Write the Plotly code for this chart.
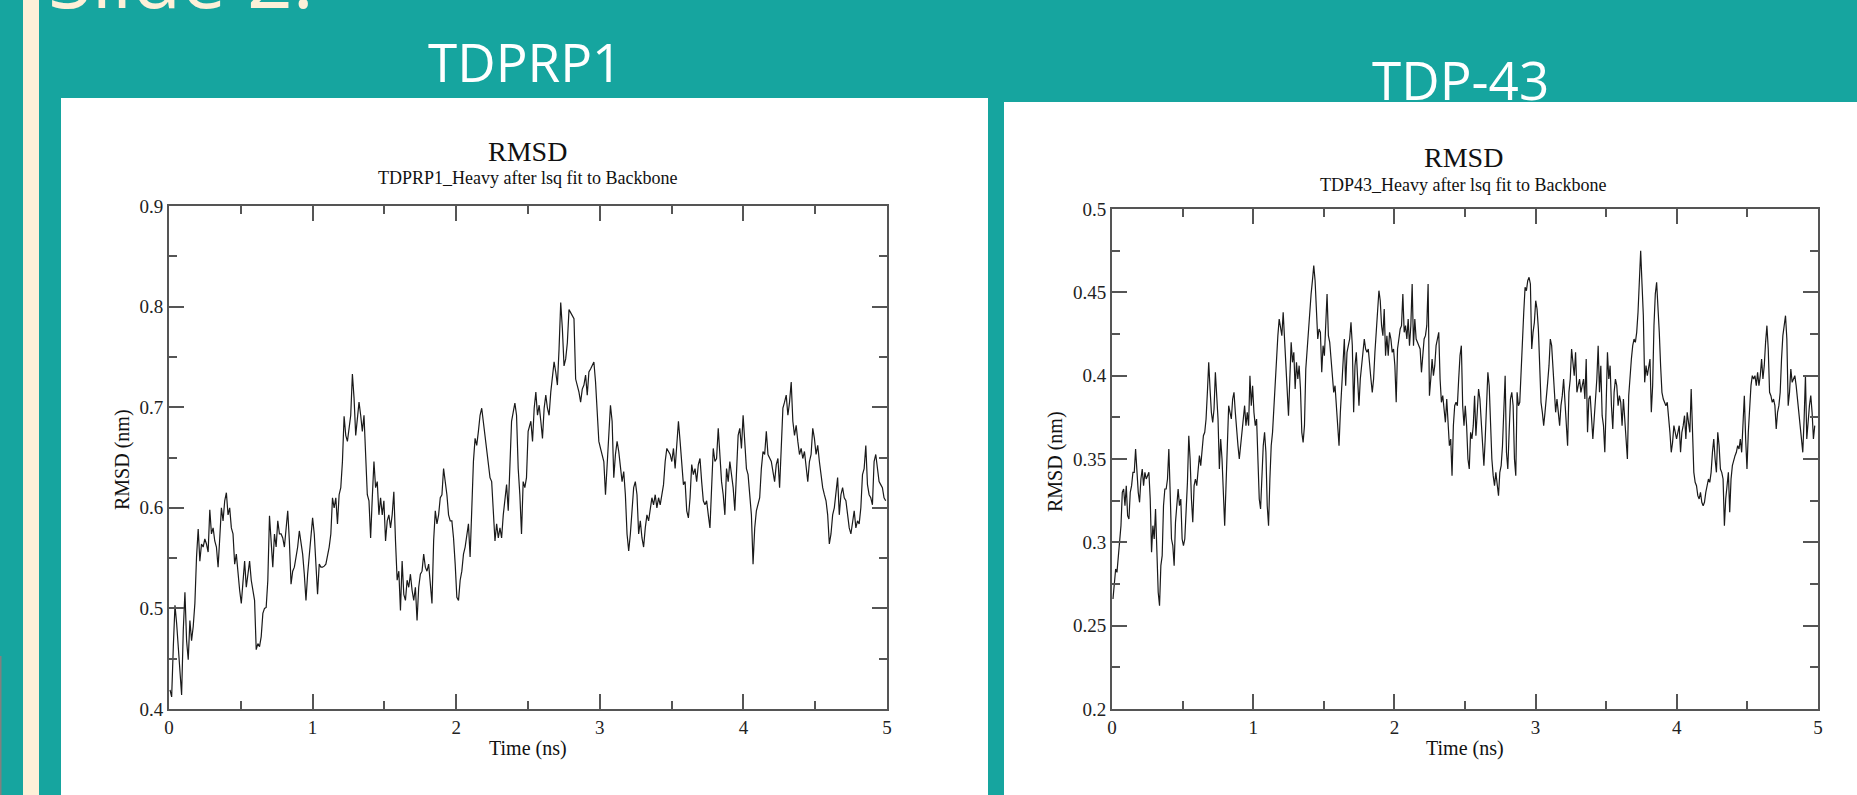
import numpy as np
import plotly.graph_objects as go

W, H = 1857, 795

# ---------------- data ----------------
# TDPRP1 RMSD (nm), first half (t ~ 0.007 .. 2.50 ns)
tdprp1_a = [0.419,0.412,0.462,0.503,0.485,0.462,0.442,0.414,0.478,0.516,
0.468,0.449,0.488,0.468,0.482,0.505,0.551,0.579,0.547,0.564,
0.561,0.569,0.564,0.556,0.598,0.574,0.580,0.567,0.561,0.541,
0.570,0.600,0.587,0.607,0.615,0.593,0.600,0.580,0.574,0.544,
0.554,0.534,0.518,0.505,0.528,0.547,0.521,0.534,0.547,0.528,
0.518,0.508,0.459,0.465,0.462,0.472,0.495,0.500,0.501,0.528,
0.592,0.567,0.541,0.574,0.561,0.587,0.574,0.574,0.570,0.561,
0.580,0.597,0.567,0.524,0.537,0.541,0.551,0.561,0.577,0.564,
0.554,0.534,0.508,0.534,0.554,0.574,0.590,0.574,0.541,0.514,
0.544,0.541,0.541,0.542,0.544,0.551,0.561,0.574,0.610,0.600,
0.610,0.584,0.613,0.620,0.646,0.691,0.672,0.666,0.679,0.692,
0.733,0.709,0.672,0.692,0.705,0.692,0.676,0.692,0.653,0.613,
0.607,0.570,0.610,0.646,0.620,0.626,0.593,0.610,0.593,0.607,
0.567,0.587,0.593,0.580,0.593,0.616,0.567,0.528,0.537,0.498,
0.547,0.514,0.508,0.528,0.521,0.534,0.518,0.508,0.521,0.488,
0.521,0.534,0.537,0.554,0.541,0.537,0.544,0.528,0.505,0.567,
0.597,0.584,0.593,0.610,0.613,0.639,0.626,0.613,0.593,0.587,
0.587,0.570,0.544,0.511,0.508,0.528,0.537,0.554,0.561,0.574,
0.584,0.551,0.593,0.646,0.669,0.662,0.676,0.692,0.699,0.686,
0.669,0.656,0.643,0.630,0.626,0.600,0.567,0.584,0.570,0.580,
0.570,0.593,0.610,0.623,0.597,0.639,0.686,0.695,0.704,0.692,
0.639,0.613,0.574,0.626,0.620,0.630,0.676]
# TDPRP1 RMSD (nm), second half (t ~ 2.52 .. 4.99 ns)
tdprp1_b = [0.686,0.666,0.699,0.715,0.692,0.702,0.686,0.669,0.699,0.712,
0.699,0.692,0.715,0.728,0.745,0.735,0.722,0.758,0.804,0.778,
0.741,0.748,0.764,0.797,0.794,0.791,0.788,0.728,0.722,0.715,
0.705,0.718,0.722,0.732,0.712,0.735,0.738,0.741,0.745,0.725,
0.695,0.666,0.659,0.653,0.646,0.613,0.639,0.676,0.702,0.686,
0.630,0.653,0.666,0.656,0.639,0.626,0.636,0.613,0.574,0.557,
0.574,0.593,0.620,0.626,0.613,0.574,0.587,0.570,0.561,0.580,
0.593,0.587,0.600,0.610,0.603,0.613,0.600,0.610,0.603,0.613,
0.623,0.646,0.659,0.656,0.653,0.646,0.659,0.639,0.659,0.686,
0.666,0.639,0.623,0.626,0.597,0.590,0.610,0.643,0.633,0.639,
0.626,0.643,0.649,0.626,0.607,0.603,0.607,0.593,0.580,0.620,
0.659,0.646,0.649,0.679,0.653,0.626,0.613,0.593,0.639,0.626,
0.646,0.633,0.620,0.597,0.639,0.672,0.679,0.659,0.692,0.666,
0.639,0.633,0.610,0.593,0.544,0.580,0.597,0.603,0.610,0.639,
0.656,0.653,0.676,0.653,0.649,0.646,0.636,0.626,0.643,0.649,
0.620,0.659,0.699,0.705,0.712,0.692,0.705,0.725,0.686,0.672,
0.682,0.666,0.653,0.659,0.649,0.656,0.639,0.626,0.646,0.653,
0.679,0.669,0.653,0.662,0.646,0.633,0.620,0.613,0.607,0.593,
0.564,0.574,0.593,0.600,0.613,0.630,0.593,0.613,0.620,0.610,
0.607,0.590,0.580,0.574,0.587,0.597,0.580,0.587,0.584,0.600,
0.633,0.639,0.662,0.623,0.613,0.610,0.603,0.646,0.653,0.639,
0.626,0.623,0.620,0.610,0.607]

# TDP-43 RMSD (nm), first half (t ~ 0.007 .. 2.49 ns)
tdp43_a = [0.266,0.275,0.284,0.282,0.292,0.300,0.310,0.330,0.332,0.322,
0.334,0.316,0.314,0.330,0.334,0.342,0.342,0.356,0.338,0.330,
0.324,0.338,0.344,0.334,0.342,0.338,0.340,0.342,0.326,0.294,
0.310,0.302,0.320,0.290,0.270,0.262,0.286,0.292,0.322,0.332,
0.332,0.338,0.356,0.330,0.302,0.298,0.286,0.312,0.320,0.332,
0.322,0.326,0.302,0.298,0.302,0.318,0.336,0.364,0.350,0.326,
0.312,0.334,0.338,0.334,0.344,0.352,0.346,0.354,0.364,0.366,
0.374,0.390,0.408,0.392,0.378,0.372,0.380,0.402,0.390,0.374,
0.344,0.362,0.350,0.334,0.310,0.334,0.358,0.382,0.378,0.374,
0.386,0.390,0.378,0.366,0.358,0.350,0.358,0.370,0.378,0.382,
0.370,0.378,0.370,0.400,0.382,0.394,0.378,0.370,0.374,0.342,
0.326,0.320,0.342,0.358,0.366,0.354,0.322,0.310,0.338,0.358,
0.366,0.382,0.398,0.412,0.424,0.434,0.430,0.424,0.438,0.420,
0.406,0.388,0.376,0.398,0.420,0.408,0.414,0.392,0.408,0.398,
0.406,0.392,0.366,0.360,0.370,0.404,0.416,0.426,0.436,0.449,
0.457,0.466,0.457,0.440,0.422,0.428,0.426,0.402,0.418,0.412,
0.432,0.449,0.424,0.420,0.410,0.398,0.390,0.394,0.382,0.374,
0.358,0.378,0.394,0.406,0.422,0.394,0.414,0.418,0.422,0.432,
0.418,0.378,0.406,0.414,0.394,0.382,0.398,0.406,0.414,0.422,
0.416,0.414,0.416,0.404,0.398,0.390,0.398,0.414,0.426,0.438,
0.451,0.445,0.430,0.424,0.440,0.412,0.424,0.412,0.426,0.422,
0.414,0.416,0.406,0.384,0.416,0.422,0.428,0.430,0.449,0.426,
0.430,0.422,0.434,0.418,0.430,0.455,0.418,0.434,0.422,0.420,
0.418,0.416,0.402,0.414,0.422,0.424,0.430,0.455,0.388,0.398,
0.410,0.400,0.406,0.418,0.422,0.426,0.398,0.384,0.388,0.380,
0.372,0.386,0.370,0.358,0.362,0.340,0.370,0.382,0.384,0.382,
0.398,0.412,0.418,0.382,0.370]
# TDP-43 RMSD (nm), second half (t ~ 2.50 .. 4.98 ns)
tdp43_b = [0.382,0.370,0.350,0.344,0.366,0.362,0.370,0.388,0.364,0.378,
0.392,0.386,0.370,0.358,0.346,0.362,0.378,0.402,0.394,0.370,
0.350,0.340,0.334,0.342,0.334,0.328,0.342,0.346,0.358,0.378,
0.400,0.354,0.344,0.366,0.386,0.390,0.382,0.350,0.340,0.390,
0.382,0.384,0.406,0.422,0.438,0.453,0.451,0.457,0.459,0.455,
0.416,0.426,0.432,0.445,0.440,0.428,0.406,0.384,0.378,0.370,
0.378,0.390,0.396,0.406,0.422,0.418,0.402,0.390,0.378,0.386,
0.378,0.370,0.382,0.388,0.398,0.386,0.374,0.358,0.390,0.398,
0.416,0.406,0.400,0.414,0.390,0.394,0.398,0.390,0.394,0.398,
0.386,0.410,0.366,0.386,0.388,0.376,0.362,0.374,0.384,0.398,
0.418,0.390,0.406,0.376,0.370,0.354,0.382,0.414,0.398,0.406,
0.382,0.368,0.390,0.398,0.394,0.382,0.388,0.384,0.370,0.386,
0.374,0.360,0.350,0.388,0.402,0.410,0.418,0.422,0.420,0.426,
0.438,0.461,0.475,0.455,0.436,0.396,0.406,0.400,0.406,0.410,
0.378,0.394,0.430,0.449,0.456,0.442,0.426,0.406,0.390,0.386,
0.384,0.382,0.384,0.376,0.366,0.354,0.360,0.370,0.366,0.362,
0.366,0.370,0.354,0.366,0.370,0.376,0.362,0.378,0.372,0.366,
0.392,0.358,0.342,0.336,0.334,0.328,0.326,0.330,0.324,0.322,
0.324,0.330,0.334,0.338,0.336,0.342,0.354,0.362,0.350,0.342,
0.366,0.358,0.344,0.342,0.338,0.310,0.326,0.334,0.342,0.318,
0.338,0.346,0.350,0.352,0.354,0.358,0.356,0.362,0.354,0.370,
0.388,0.362,0.344,0.366,0.382,0.394,0.400,0.398,0.400,0.394,
0.402,0.394,0.400,0.410,0.398,0.406,0.420,0.430,0.416,0.390,
0.388,0.384,0.386,0.382,0.368,0.378,0.382,0.390,0.410,0.424,
0.430,0.436,0.422,0.382,0.390,0.404,0.396,0.398,0.400,0.394,
0.386,0.382,0.370,0.362,0.354,0.374,0.400,0.362,0.374,0.382,
0.388,0.378,0.362,0.370]

# sampling windows of the two digitised halves (ns)
tdprp1_span_a, tdprp1_span_b = (0.007, 2.501), (2.520, 4.991)
tdp43_span_a, tdp43_span_b = (0.007, 2.493), (2.502, 4.977)

x_ticks = [0, 1, 2, 3, 4, 5]
y1_ticks = [0.4, 0.5, 0.6, 0.7, 0.8, 0.9]
y1_labels = ["0.4", "0.5", "0.6", "0.7", "0.8", "0.9"]
y2_ticks = [0.2, 0.25, 0.3, 0.35, 0.4, 0.45, 0.5]
y2_labels = ["0.2", "0.25", "0.3", "0.35", "0.4", "0.45", "0.5"]

panel_titles = ["TDPRP1", "TDP-43"]
plot_titles = ["RMSD", "RMSD"]
plot_subtitles = ["TDPRP1_Heavy after lsq fit to Backbone",
                  "TDP43_Heavy after lsq fit to Backbone"]
x_title = "Time (ns)"
y_title = "RMSD (nm)"
slide_title = "Slide 2:"

# ---------------- build ----------------
def grid(span, n):
    return np.linspace(span[0], span[1], n)

t1 = np.concatenate([grid(tdprp1_span_a, len(tdprp1_a)), grid(tdprp1_span_b, len(tdprp1_b))])
v1 = tdprp1_a + tdprp1_b
t2 = np.concatenate([grid(tdp43_span_a, len(tdp43_a)), grid(tdp43_span_b, len(tdp43_b))])
v2 = tdp43_a + tdp43_b

TEAL = "#16A59F"
CREAM = "#FDF0D8"
AX = "#555555"
SERIF = "Liberation Serif"

def px(x):
    return x / W

def py(y):
    return 1 - y / H

fig = go.Figure()
fig.add_trace(go.Scatter(x=t1, y=v1, mode="lines", line=dict(color="#1a1a1a", width=1.2),
                         xaxis="x", yaxis="y", showlegend=False, hoverinfo="skip"))
fig.add_trace(go.Scatter(x=t2, y=v2, mode="lines", line=dict(color="#1a1a1a", width=1.2),
                         xaxis="x2", yaxis="y2", showlegend=False, hoverinfo="skip"))

def axis_style(**kw):
    d = dict(showline=True, linecolor=AX, linewidth=2, mirror="allticks",
             ticks="inside", ticklen=15, tickwidth=1.5, tickcolor=AX,
             showgrid=False, zeroline=False, fixedrange=True, automargin=False,
             tickfont=dict(family=SERIF, size=19, color="#222222"),
             minor=dict(ticks="inside", ticklen=8, tickwidth=1.5, tickcolor=AX, showgrid=False))
    d.update(kw)
    return d

xdom1 = [px(169), px(887)]
xdom2 = [px(1112), px(1818)]
fig.update_layout(
    width=W, height=H, autosize=False,
    margin=dict(l=0, r=0, t=0, b=0, pad=0, autoexpand=False),
    paper_bgcolor=TEAL, plot_bgcolor="rgba(0,0,0,0)",
    showlegend=False,
    xaxis=axis_style(domain=xdom1, range=[0, 5], tickvals=x_ticks, anchor="y",
                     minor_dtick=0.5, minor_tick0=0),
    yaxis=axis_style(domain=[py(709), py(206)], range=[0.4, 0.9], anchor="x",
                     tickvals=y1_ticks, ticktext=y1_labels, minor_dtick=0.05, minor_tick0=0.4),
    xaxis2=axis_style(domain=xdom2, range=[0, 5], tickvals=x_ticks, anchor="y2",
                      minor_dtick=0.5, minor_tick0=0),
    yaxis2=axis_style(domain=[py(709), py(209)], range=[0.2, 0.5], anchor="x2",
                      tickvals=y2_ticks, ticktext=y2_labels, minor_dtick=0.025, minor_tick0=0.2),
)

shapes = [
    dict(type="rect", xref="paper", yref="paper", x0=px(23), x1=px(39), y0=0, y1=1,
         fillcolor=CREAM, line_width=0, layer="below"),
    dict(type="rect", xref="paper", yref="paper", x0=px(61), x1=px(988), y0=0, y1=py(98),
         fillcolor="white", line_width=0, layer="below"),
    dict(type="rect", xref="paper", yref="paper", x0=px(1004), x1=1, y0=0, y1=py(102),
         fillcolor="white", line_width=0, layer="below"),
    dict(type="rect", xref="paper", yref="paper", x0=0, x1=px(1.5), y0=0, y1=py(656),
         fillcolor="#808080", line_width=0, layer="below"),
]
fig.update_layout(shapes=shapes)

ann = []
def text(s, x, y, size, family, color="#111111", angle=0, xanchor="center", yanchor="middle"):
    ann.append(dict(text=s, x=x, y=y, xref="paper", yref="paper", showarrow=False,
                    font=dict(size=size, family=family, color=color), textangle=angle,
                    xanchor=xanchor, yanchor=yanchor))

# slide heading (mostly cut off at the top edge)
text(slide_title, px(46), py(-24), 80, "Open Sans", color=CREAM, xanchor="left")
# panel headings
text(panel_titles[0], px(525), py(62), 53, "Open Sans", color="white")
text(panel_titles[1], px(1460), py(80), 53, "Open Sans", color="white")
# plot titles
text(plot_titles[0], px(527), py(152), 28, SERIF)
text(plot_subtitles[0], px(527), py(178), 18, SERIF)
text(plot_titles[1], px(1463), py(158), 28, SERIF)
text(plot_subtitles[1], px(1463), py(185), 18, SERIF)
# axis titles
text(x_title, px(528), py(748), 20, SERIF)
text(x_title, px(1465), py(748), 20, SERIF)
text(y_title, px(122), py(460), 20, SERIF, angle=-90)
text(y_title, px(1055), py(462), 20, SERIF, angle=-90)
fig.update_layout(annotations=ann)

fig.write_html("out.html", config={"displayModeBar": False})
